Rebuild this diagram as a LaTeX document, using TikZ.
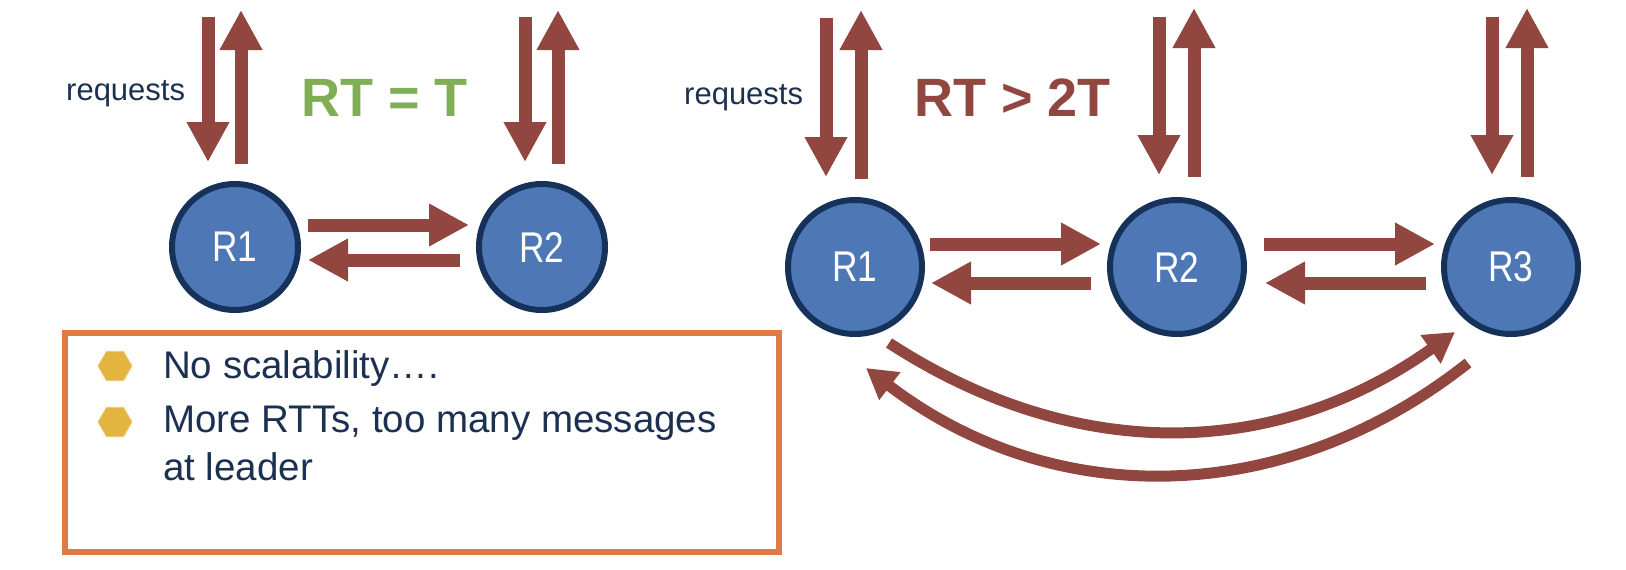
\documentclass[tikz,border=0pt]{standalone}
\usepackage{fontspec}
\setmainfont{Liberation Sans}
\newfontfamily\condfont[FakeStretch=0.82]{Liberation Sans}
\usetikzlibrary{arrows.meta,calc,shapes.geometric}
\definecolor{arr}{HTML}{914640}
\definecolor{nodefill}{HTML}{4D77B5}
\definecolor{nodeline}{HTML}{17325A}
\definecolor{navy}{HTML}{1C3152}
\definecolor{grn}{HTML}{7FAE55}
\definecolor{org}{HTML}{DF7B45}
\definecolor{gold}{HTML}{E3B440}
\begin{document}
\begin{tikzpicture}[x=1pt,y=-1pt,
  repL/.style={circle, draw=nodeline, line width=6pt, fill=nodefill, text=white, inner sep=0pt, minimum size=126pt, font=\condfont\fontsize{43}{50}\selectfont},
  repR/.style={repL, minimum size=134pt},
  bigarrow/.style={draw=arr, line width=13pt, -{Triangle[width=40pt,length=40pt]}},
  arcarrow/.style={draw=arr, line width=11pt, -{Triangle[width=33pt,length=30pt]}},
  lbl/.style={anchor=base west, inner sep=0pt},
  reqtxt/.style={lbl, text=navy, font=\fontsize{31}{37}\selectfont},
  bigtxt/.style={lbl, font=\bfseries\fontsize{54}{60}\selectfont},
  bullettxt/.style={lbl, text=navy, font=\fontsize{38.5}{46}\selectfont},
  hexbullet/.style={regular polygon, regular polygon sides=6, minimum size=34pt, inner sep=0pt, fill=gold, draw=gold!70!white, line width=0.8pt},
  infobox/.style={draw=org, line width=6pt}
]
\useasboundingbox (0,0) rectangle (1626,570);

% ---------- left diagram ----------
\node[repL] (L1) at (235,247) {R1};
\node[repL] (L2) at (542,247) {R2};
\coordinate (L1req) at (208,17);
\coordinate (L1resp) at (241,10);
\coordinate (L2req) at (525,17);
\coordinate (L2resp) at (558,10);
\draw[bigarrow, shorten >=19pt] (L1req) -- (L1req |- L1.north);
\draw[bigarrow, shorten <=17pt] (L1resp |- L1.north) -- (L1resp);
\draw[bigarrow, shorten >=19pt] (L2req) -- (L2req |- L2.north);
\draw[bigarrow, shorten <=17pt] (L2resp |- L2.north) -- (L2resp);
\draw[bigarrow] ($(L1.east)+(7,-22)$) -- ($(L2.west)+(-7,-22)$);
\draw[bigarrow] ($(L2.west)+(-16,13)$) -- ($(L1.east)+(7,13)$);
\node[reqtxt] (reqL) at (66,100) {requests};
\node[bigtxt, text=grn] (rtL) at (301,116) {RT = T};

% ---------- info box ----------
\draw[infobox] (65,333) rectangle (779,552);
\node[hexbullet] (b1) at (115,366) {};
\node[hexbullet] (b2) at (115,422) {};
\node[bullettxt] (t1) at (163,378) {No scalability….};
\node[bullettxt] (t2) at (163,432) {More RTTs, too many messages};
\node[bullettxt] (t3) at (163,480) {at leader};

% ---------- right diagram ----------
\node[repR] (R1) at (855,267) {R1};
\node[repR] (R2) at (1177,267) {R2};
\node[repR] (R3) at (1511,267) {R3};
\coordinate (R1req) at (826,18);
\coordinate (R1resp) at (861,10);
\coordinate (R2req) at (1159,17);
\coordinate (R2resp) at (1194,8);
\coordinate (R3req) at (1492,17);
\coordinate (R3resp) at (1527,8);
\draw[bigarrow, shorten >=20pt] (R1req) -- (R1req |- R1.north);
\draw[bigarrow, shorten <=18pt] (R1resp |- R1.north) -- (R1resp);
\draw[bigarrow, shorten >=22pt] (R2req) -- (R2req |- R2.north);
\draw[bigarrow, shorten <=20pt] (R2resp |- R2.north) -- (R2resp);
\draw[bigarrow, shorten >=22pt] (R3req) -- (R3req |- R3.north);
\draw[bigarrow, shorten <=20pt] (R3resp |- R3.north) -- (R3resp);
\draw[bigarrow] ($(R1.east)+(5,-23)$) -- ($(R2.west)+(-6,-23)$);
\draw[bigarrow] ($(R2.west)+(-16,16)$) -- ($(R1.east)+(6,16)$);
\draw[bigarrow] ($(R2.east)+(17,-23)$) -- ($(R3.west)+(-6,-23)$);
\draw[bigarrow] ($(R3.west)+(-15,16)$) -- ($(R2.east)+(18,16)$);
\draw[arcarrow] ($(R1)+(34,76)$) .. controls (1072,462) and (1272,462) .. ($(R3)+(-56,65)$);
\draw[arcarrow] ($(R3)+(-43,96)$) .. controls (1282,510) and (1052,510) .. ($(R1)+(11,101)$);
\node[reqtxt] (reqR) at (684,104) {requests};
\node[bigtxt, text=arr] (rtR) at (914,116) {RT > 2T};
\end{tikzpicture}
\end{document}
